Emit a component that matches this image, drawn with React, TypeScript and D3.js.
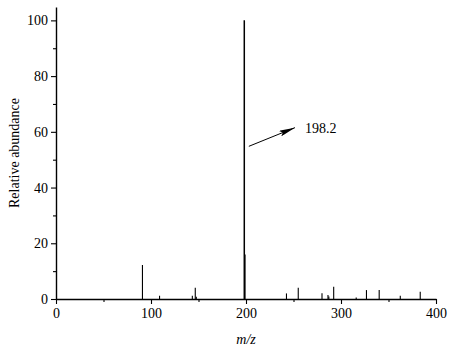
import React, { useEffect, useRef } from "react";
import * as d3 from "d3";

// m/z values and relative abundance
const mz = [91, 109, 143.5, 146.6, 147.7, 198.2, 199, 242.6, 255, 280, 286.3, 287.2, 292.3, 316, 326.8, 340.2, 362.4, 383.4];
const abundance = [12.2, 1.2, 1.2, 4, 0.8, 100, 16, 2, 4, 2.1, 1.4, 0.9, 4.4, 0.5, 3.2, 3.2, 1.2, 2.6];
const xTicks = [0, 100, 200, 300, 400];
const yTicks = [0, 20, 40, 60, 80, 100];
const peakLabel = "198.2";

const W = 472;
const H = 359;
const margin = { top: 7, right: 36, bottom: 60, left: 56 };

export default function App() {
  const ref = useRef<SVGSVGElement>(null);

  useEffect(() => {
    const svg = d3.select(ref.current);
    svg.selectAll("*").remove();
    const innerW = W - margin.left - margin.right;
    const innerH = H - margin.top - margin.bottom;

    const x = d3.scaleLinear().domain([0, 400]).range([0, innerW]);
    const y = d3.scaleLinear().domain([0, 104.8]).range([innerH, 0]);

    const g = svg
      .append("g")
      .attr("transform", "translate(" + margin.left + "," + margin.top + ")");

    // peaks
    g.selectAll("line.peak")
      .data(mz)
      .enter()
      .append("line")
      .attr("class", "peak")
      .attr("x1", (d) => x(d))
      .attr("x2", (d) => x(d))
      .attr("y1", y(0))
      .attr("y2", (d, i) => y(abundance[i]))
      .attr("stroke", "#000")
      .attr("stroke-width", (d, i) => (abundance[i] > 50 ? 1.5 : 1.1));

    // x axis, major and minor ticks
    const xAxis = g.append("g").attr("transform", "translate(0," + innerH + ")");
    xAxis
      .call(d3.axisBottom(x).tickValues(d3.range(50, 400, 100)).tickSize(3).tickFormat(() => ""))
      .select(".domain")
      .remove();
    const xMajor = g.append("g").attr("transform", "translate(0," + innerH + ")");
    xMajor.call(d3.axisBottom(x).tickValues(xTicks).tickSize(5).tickSizeOuter(0).tickPadding(4));

    // y axis
    g.append("g")
      .call(d3.axisLeft(y).tickValues(d3.range(10, 101, 20)).tickSize(3).tickFormat(() => ""))
      .select(".domain")
      .remove();
    g.append("g").call(d3.axisLeft(y).tickValues(yTicks).tickSize(5).tickSizeOuter(0).tickPadding(3));

    g.selectAll(".domain").attr("stroke-width", 1.4);
    g.selectAll(".tick line").attr("stroke-width", 1.1);
    g.selectAll(".tick text")
      .attr("font-family", "Liberation Serif")
      .attr("font-size", 14)
      .attr("fill", "#000");

    // annotation arrow
    svg
      .append("defs")
      .append("marker")
      .attr("id", "head")
      .attr("viewBox", "0 0 16 6")
      .attr("refX", 16)
      .attr("refY", 3)
      .attr("markerWidth", 16)
      .attr("markerHeight", 6)
      .attr("markerUnits", "userSpaceOnUse")
      .attr("orient", "auto")
      .append("path")
      .attr("d", "M0,0 L16,3 L0,6 L3,3 Z")
      .attr("fill", "#000");

    g.append("line")
      .attr("x1", x(203))
      .attr("y1", y(54.8))
      .attr("x2", x(251.5))
      .attr("y2", y(61.5))
      .attr("stroke", "#000")
      .attr("stroke-width", 1)
      .attr("marker-end", "url(#head)");

    g.append("text")
      .attr("x", x(262))
      .attr("y", y(59.5))
      .attr("font-family", "Liberation Serif")
      .attr("font-size", 14)
      .text(peakLabel);

    // axis titles
    svg
      .append("text")
      .attr("transform", "translate(19," + (margin.top + innerH / 2) + ") rotate(-90)")
      .attr("text-anchor", "middle")
      .attr("font-family", "Liberation Serif")
      .attr("font-size", 14)
      .text("Relative abundance");

    svg
      .append("text")
      .attr("x", margin.left + x(200))
      .attr("y", 344)
      .attr("text-anchor", "middle")
      .attr("font-family", "Liberation Serif")
      .attr("font-style", "italic")
      .attr("font-size", 14)
      .text("m/z");
  }, []);

  return (
    <div style={{ position: "absolute", left: 0, top: 0 }}>
      <svg ref={ref} width={W} height={H} style={{ display: "block", background: "#fff" }} />
    </div>
  );
}
